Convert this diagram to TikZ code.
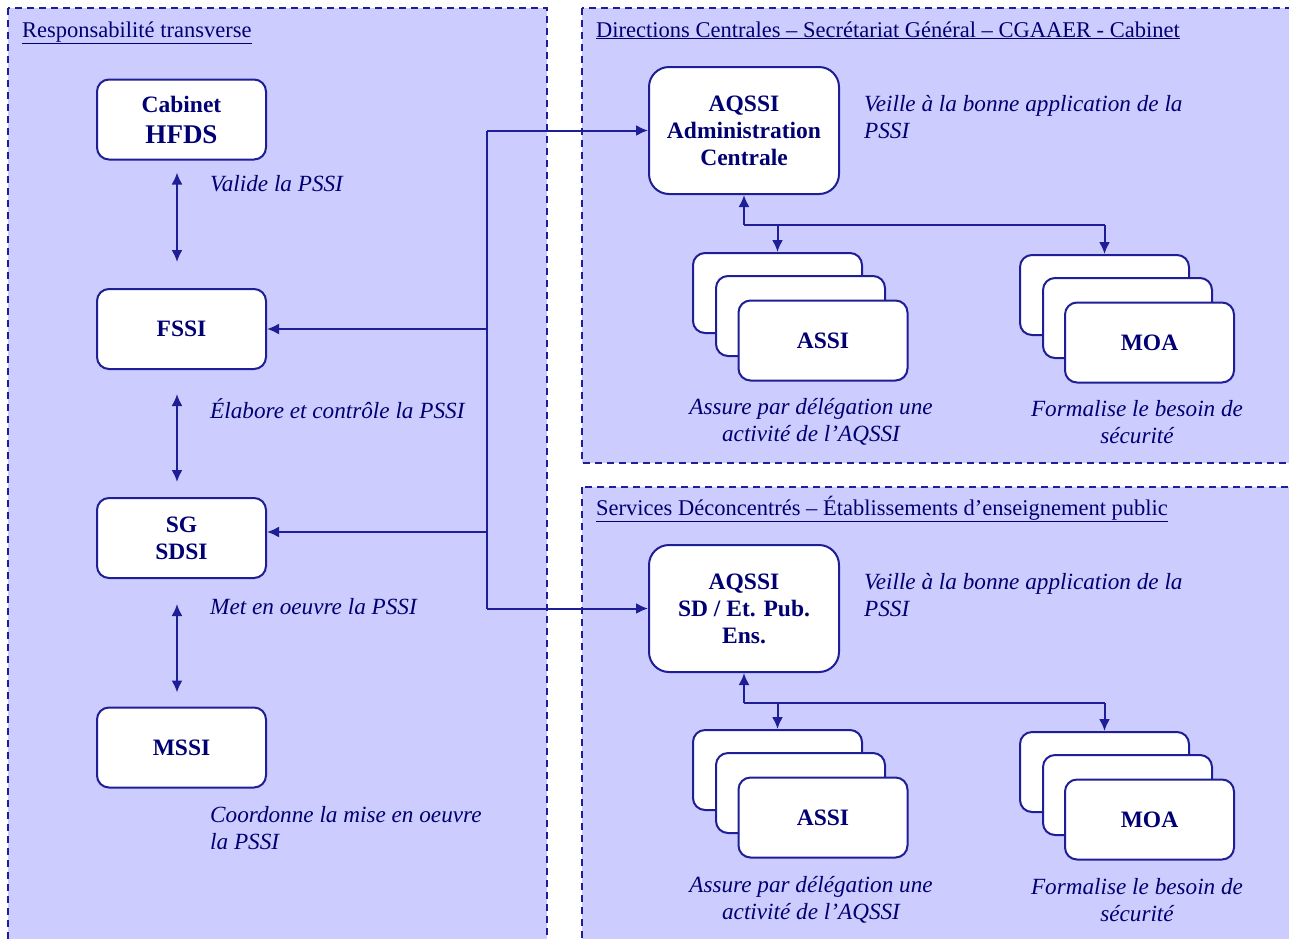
\documentclass[tikz,border=0pt]{standalone}
\usepackage{fontspec}
\setmainfont{Liberation Serif}
\usetikzlibrary{arrows.meta,calc}
\definecolor{panelfill}{RGB}{204,204,255}
\definecolor{linec}{RGB}{30,30,150}
\definecolor{textc}{RGB}{0,0,115}
\begin{document}
\begin{tikzpicture}[x=1pt,y=-1pt,
  panel/.style={draw=linec, fill=panelfill, line width=1.8pt, dash pattern=on 7pt off 5pt},
  box/.style={draw=linec, fill=white, line width=2pt, rounded corners=12pt, minimum width=169pt, minimum height=80pt, text=textc, font=\fontsize{23.5}{27}\selectfont\bfseries, align=center, inner sep=0pt},
  bigbox/.style={box, minimum width=190pt, minimum height=127pt, rounded corners=20pt},
  lbl/.style={text=textc, font=\fontsize{23.2}{27}\selectfont\itshape, inner sep=0pt},
  ttl/.style={text=textc, font=\fontsize{22.5}{26}\selectfont, inner sep=0pt, anchor=base west},
  conn/.style={draw=linec, line width=2pt},
  tipend/.style={conn, -{Latex[length=12pt,width=11pt]}},
  tipboth/.style={conn, {Latex[length=12pt,width=11pt]}-{Latex[length=12pt,width=11pt]}}
]
\useasboundingbox (0,0) rectangle (1289,938);
\clip (0,0) rectangle (1289,938);
\fill[white] (0,0) rectangle (1289,938);

% panels
\draw[panel] (8,8) rectangle (547,970);
\draw[panel] (582,8) rectangle (1310,463);
\draw[panel] (582,487) rectangle (1310,970);

% titles
\node[ttl] (t1) at (22,37) {\underline{Responsabilité transverse}};
\node[ttl] (t2) at (596,37) {\underline{Directions Centrales – Secrétariat Général – CGAAER - Cabinet}};
\node[ttl] (t3) at (596,515) {\underline{Services Déconcentrés – Établissements d’enseignement public}};

% left column
\node[box] (hfds) at (181.5,119.5) {Cabinet\\[4pt]{\fontsize{27}{30}\selectfont HFDS}};
\node[box] (fssi) at (181.5,329) {FSSI};
\node[box] (sg) at (181.5,538) {SG\\SDSI};
\node[box] (mssi) at (181.5,747.5) {MSSI};

\draw[tipboth] ($(hfds.south)+(-4.5,12)$) -- ($(fssi.north)+(-4.5,-26)$);
\draw[tipboth] ($(fssi.south)+(-4.5,24)$) -- ($(sg.north)+(-4.5,-15)$);
\draw[tipboth] ($(sg.south)+(-4.5,25)$) -- ($(mssi.north)+(-4.5,-14)$);

\node[lbl, anchor=west] (l1) at (210,184) {Valide la PSSI};
\node[lbl, anchor=west] (l2) at (210,409) {Élabore et contrôle la PSSI};
\node[lbl, anchor=west] (l3) at (210,607) {Met en oeuvre la PSSI};
\node[lbl, anchor=west, align=left] (l4) at (210,828.5) {Coordonne la mise en oeuvre\\la PSSI};

% right top group
\node[bigbox] (aq1) at (744,130.5) {AQSSI\\Administration\\Centrale};
\node[lbl, anchor=west, align=left] (v1) at (864,117.5) {Veille à la bonne application de la\\PSSI};
\node[box] (assiA) at (777.5,293) {};
\node[box] (assiB) at (800.5,316) {};
\node[box] (assiC) at (823,340.5) {ASSI};
\node[box] (moaA) at (1104.5,295) {};
\node[box] (moaB) at (1127.5,318) {};
\node[box] (moaC) at (1149.5,342.5) {MOA};
\node[lbl, align=center] (a1) at (811,421.5) {Assure par délégation une\\activité de l’AQSSI};
\node[lbl, align=center] (f1) at (1137,422.5) {Formalise le besoin de\\sécurité};

\coordinate (j1) at ($(aq1.south)+(0,30)$);
\draw[tipend] (j1) -- (aq1.south);
\draw[conn] (j1) -- (j1 -| moaA.north);
\draw[tipend] (j1 -| assiA.north) -- (assiA.north);
\draw[tipend] (j1 -| moaA.north) -- (moaA.north);

% right bottom group
\node[bigbox] (aq2) at (744,608.5) {AQSSI\\SD / Et. Pub.\\Ens.};
\node[lbl, anchor=west, align=left] (v2) at (864,595.5) {Veille à la bonne application de la\\PSSI};
\node[box] (assi2A) at (777.5,770) {};
\node[box] (assi2B) at (800.5,793) {};
\node[box] (assi2C) at (823,817.5) {ASSI};
\node[box] (moa2A) at (1104.5,772) {};
\node[box] (moa2B) at (1127.5,795) {};
\node[box] (moa2C) at (1149.5,819.5) {MOA};
\node[lbl, align=center] (a2) at (811,899.5) {Assure par délégation une\\activité de l’AQSSI};
\node[lbl, align=center] (f2) at (1137,900.5) {Formalise le besoin de\\sécurité};

\coordinate (j2) at ($(aq2.south)+(0,30)$);
\draw[tipend] (j2) -- (aq2.south);
\draw[conn] (j2) -- (j2 -| moa2A.north);
\draw[tipend] (j2 -| assi2A.north) -- (assi2A.north);
\draw[tipend] (j2 -| moa2A.north) -- (moa2A.north);

% spine connectors
\coordinate (s1) at (487,130.5);
\coordinate (s2) at (487,329);
\coordinate (s3) at (487,532);
\coordinate (s4) at (487,608.5);
\draw[conn] (s1) -- (s4);
\draw[tipend] (s1) -- (aq1.west |- s1);
\draw[tipend] (s2) -- (fssi.east |- s2);
\draw[tipend] (s3) -- (sg.east |- s3);
\draw[tipend] (s4) -- (aq2.west |- s4);
\end{tikzpicture}
\end{document}
